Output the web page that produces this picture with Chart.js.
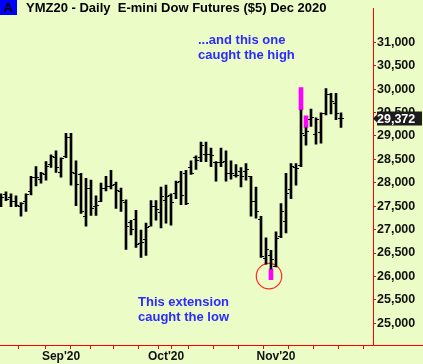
<!DOCTYPE html>
<html lang="en">
<head>
<meta charset="UTF-8">
<title>YMZ20 - Daily E-mini Dow Futures</title>
<script src="https://cdn.jsdelivr.net/npm/chart.js"></script>
<style>
  html, body { margin: 0; padding: 0; }
  body { background: #ecfcc6; width: 423px; height: 364px; overflow: hidden; font-family: "Liberation Sans", Arial, sans-serif; }
  #wrap { position: relative; width: 423px; height: 364px; }
  #chart { position: absolute; left: 0; top: 0; }
  .badge { position: absolute; left: 0; top: 0; width: 17px; height: 15px; background: #0000ff; color: #000; font-weight: bold; font-size: 13px; line-height: 15px; text-align: center; }
  .title { position: absolute; left: 26px; top: 0; font-weight: bold; font-size: 13px; line-height: 15px; white-space: pre; color: #000; }
  .note { position: absolute; color: #2b2bff; font-weight: bold; font-size: 13px; line-height: 15px; white-space: nowrap; }
</style>
</head>
<body>
<div id="wrap">
  <canvas id="chart" width="423" height="364"></canvas>
  <div class="badge">A</div>
  <div class="title">YMZ20 - Daily  E-mini Dow Futures ($5) Dec 2020</div>
  <div class="note" style="left:198px; top:32px;">...and this one<br>caught the high</div>
  <div class="note" style="left:138px; top:294px; text-align:center;">This extension<br>caught the low</div>
</div>

<script>
// trading days (last two only extend the axis)
const dates = [
  '2020-08-14', '2020-08-17', '2020-08-18', '2020-08-19', '2020-08-20', '2020-08-21',
  '2020-08-24', '2020-08-25', '2020-08-26', '2020-08-27', '2020-08-28', '2020-08-31',
  '2020-09-01', '2020-09-02', '2020-09-03', '2020-09-04', '2020-09-08', '2020-09-09',
  '2020-09-10', '2020-09-11', '2020-09-14', '2020-09-15', '2020-09-16', '2020-09-17',
  '2020-09-18', '2020-09-21', '2020-09-22', '2020-09-23', '2020-09-24', '2020-09-25',
  '2020-09-28', '2020-09-29', '2020-09-30', '2020-10-01', '2020-10-02', '2020-10-05',
  '2020-10-06', '2020-10-07', '2020-10-08', '2020-10-09', '2020-10-12', '2020-10-13',
  '2020-10-14', '2020-10-15', '2020-10-16', '2020-10-19', '2020-10-20', '2020-10-21',
  '2020-10-22', '2020-10-23', '2020-10-26', '2020-10-27', '2020-10-28', '2020-10-29',
  '2020-10-30', '2020-11-02', '2020-11-03', '2020-11-04', '2020-11-05', '2020-11-06',
  '2020-11-09', '2020-11-10', '2020-11-11', '2020-11-12', '2020-11-13', '2020-11-16',
  '2020-11-17', '2020-11-18', '2020-11-19', '2020-11-20', '2020-11-23'
];

const opens = [27722, 27743, 27681, 27597, 27493, 27597, 27806, 28118, 28077, 28181,
  28389, 28535, 28222, 28556, 28973, 28202, 28181, 27285, 27868, 27493,
  27597, 27889, 27931, 27972, 27806, 27577, 27160, 27222, 26701, 26785,
  27076, 27493, 27368, 27618, 27722, 27764, 28035, 28202, 28327, 28535,
  28535, 28597, 28597, 28431, 28431, 28452, 28202, 28160, 28243, 28243,
  28139, 27597, 27222, 26389, 26451, 26222, 26847, 27181, 27847, 28327,
  28368, 29014, 29348, 29035, 29077, 29473, 29889, 29702, 29368];

const highs = [27764, 27806, 27764, 27722, 27577, 27764, 28139, 28347, 28222, 28452,
  28597, 28681, 28535, 29056, 29056, 28472, 28202, 28097, 28056, 27722,
  27993, 28139, 28264, 28014, 27889, 27639, 27201, 27410, 26993, 27139,
  27618, 27618, 27910, 27952, 27764, 28035, 28243, 28264, 28472, 28577,
  28868, 28868, 28743, 28452, 28743, 28681, 28472, 28389, 28327, 28410,
  28139, 27910, 27285, 26826, 26556, 26951, 27556, 28202, 28410, 28410,
  29556, 29181, 29577, 29389, 29493, 30014, 29910, 29910, 29493];

const lows = [27493, 27618, 27493, 27493, 27285, 27389, 27743, 27931, 27993, 28056,
  28327, 28222, 28118, 28535, 27952, 27514, 27347, 27076, 27306, 27306,
  27597, 27827, 27868, 27452, 27389, 26576, 26889, 26618, 26409, 26451,
  27076, 27201, 27035, 27139, 27097, 27660, 27535, 27535, 28181, 28285,
  28452, 28452, 28347, 28035, 28347, 28035, 28077, 28118, 27910, 28056,
  27285, 27243, 26409, 26264, 26160, 26201, 26826, 26931, 27660, 27952,
  28347, 28806, 29202, 28827, 28848, 29452, 29473, 29348, 29181];

const closes = [27681, 27639, 27597, 27514, 27556, 27743, 28118, 28118, 28202, 28347,
  28556, 28327, 28514, 28973, 28222, 27972, 27389, 27868, 27452, 27514,
  27889, 27931, 27952, 27827, 27618, 27076, 26993, 26681, 26722, 27056,
  27493, 27431, 27702, 27702, 27577, 28014, 27722, 27556, 28202, 28472,
  28806, 28597, 28577, 28431, 28431, 28202, 28202, 28160, 28139, 28285,
  27597, 27389, 26430, 26576, 26368, 26805, 27389, 27764, 28347, 28306,
  29056, 29098, 29389, 29348, 29473, 29889, 29744, 29473, 29372];

// extension bars (magenta)
const extBars = [54, 60, 61];
const extLow = [25930, 29556, 29181];
const extHigh = [26160, 30035, 29431];

// circle round the low extension
const lowCircle = { x: 53.6, y: 26007 };

const yTicks = [25000, 25500, 26000, 26500, 27000, 27500, 28000, 28500, 29000, 29500, 30000, 30500, 31000];
const months = ['Jan', 'Feb', 'Mar', 'Apr', 'May', 'Jun', 'Jul', 'Aug', 'Sep', 'Oct', 'Nov', 'Dec'];

// week / month ticks from the dates
const days = dates.map(d => new Date(d + 'T00:00:00'));
const monthTicks = {};
const xTicks = [];
for (let i = 1; i < days.length; i++) {
  const newMonth = days[i].getMonth() !== days[i - 1].getMonth();
  const newWeek = days[i].getDay() <= days[i - 1].getDay();
  if (newMonth) {
    monthTicks[i] = months[days[i].getMonth()] + "'" + String(days[i].getFullYear()).slice(2);
    xTicks.push(i);
  } else if (newWeek) {
    const nextNewMonth = i + 1 < days.length && days[i + 1].getMonth() !== days[i].getMonth();
    if (!nextNewMonth) xTicks.push(i);
  }
}

function tickImage(side) {
  const c = document.createElement('canvas');
  c.width = 6; c.height = 1;
  const g = c.getContext('2d');
  g.fillStyle = '#000';
  g.fillRect(side === 'left' ? 0 : 4, 0, 2, 1);
  return c;
}

const lastPriceTag = {
  id: 'lastPriceTag',
  afterDraw(chart) {
    const { ctx, chartArea, scales } = chart;
    // red baseline runs under the price axis too
    const yb = Math.round(chartArea.bottom) + 0.5;
    ctx.save();
    ctx.strokeStyle = '#ff0000';
    ctx.lineWidth = 1;
    ctx.beginPath();
    ctx.moveTo(chartArea.right, yb);
    ctx.lineTo(chart.width, yb);
    ctx.stroke();

    const last = closes[closes.length - 1];
    const y = scales.y.getPixelForValue(last);
    const x0 = chartArea.right;
    ctx.fillStyle = '#1c1c1c';
    ctx.beginPath();
    ctx.moveTo(x0, y);
    ctx.lineTo(x0 + 4, y - 4);
    ctx.lineTo(x0 + 4, y - 7);
    ctx.lineTo(chart.width - 1, y - 7);
    ctx.lineTo(chart.width - 1, y + 7);
    ctx.lineTo(x0 + 4, y + 7);
    ctx.lineTo(x0 + 4, y + 4);
    ctx.closePath();
    ctx.fill();
    ctx.fillStyle = '#ffffff';
    ctx.font = 'bold 12.5px "Liberation Sans", Arial, sans-serif';
    ctx.textBaseline = 'middle';
    ctx.textAlign = 'left';
    ctx.fillText(last.toLocaleString('en-US'), x0 + 4, y + 1);
    ctx.restore();
  }
};

new Chart(document.getElementById('chart'), {
  type: 'bar',
  data: {
    datasets: [
      {
        label: 'Range',
        data: highs.map((h, i) => ({ x: i, y: [lows[i], h] })),
        backgroundColor: '#000000',
        barThickness: 2,
        grouped: false,
        order: 0
      },
      {
        type: 'line',
        label: 'Open',
        data: opens.map((v, i) => ({ x: i, y: v })),
        showLine: false,
        pointStyle: tickImage('left'),
        pointRadius: 3,
        order: 1
      },
      {
        type: 'line',
        label: 'Close',
        data: closes.map((v, i) => ({ x: i, y: v })),
        showLine: false,
        pointStyle: tickImage('right'),
        pointRadius: 3,
        order: 1
      },
      {
        label: 'Extension',
        data: extBars.map((b, k) => ({ x: b, y: [extLow[k], extHigh[k]] })),
        backgroundColor: '#ff00ff',
        barThickness: 4,
        grouped: false,
        order: 2
      },
      {
        type: 'line',
        label: 'Low',
        data: [lowCircle],
        showLine: false,
        pointStyle: 'circle',
        pointRadius: 12.7,
        borderColor: '#ff2a2a',
        borderWidth: 1.2,
        backgroundColor: 'rgba(0,0,0,0)',
        order: 3
      }
    ]
  },
  options: {
    responsive: false,
    animation: false,
    events: [],
    layout: { padding: 0, autoPadding: false },
    plugins: { legend: { display: false }, tooltip: { enabled: false } },
    scales: {
      x: {
        type: 'linear',
        min: -0.2,
        max: 74.4,
        offset: false,
        grid: { drawOnChartArea: false, drawTicks: true, tickLength: 4, color: '#ff0000' },
        border: { color: '#ff0000', width: 1 },
        afterBuildTicks: axis => { axis.ticks = xTicks.map(v => ({ value: v })); },
        afterFit: scale => { scale.height = 19; },
        ticks: {
          autoSkip: false,
          maxRotation: 0,
          padding: 0,
          color: '#111111',
          font: { family: '"Liberation Sans", Arial, sans-serif', size: 12, weight: 'bold' },
          callback: v => monthTicks[v] || ''
        }
      },
      y: {
        position: 'right',
        min: 24536,
        max: 31723,
        stacked: false,
        grid: { drawOnChartArea: false, drawTicks: true, tickLength: 3, color: '#ff0000' },
        border: { color: '#ff0000', width: 1 },
        afterBuildTicks: axis => { axis.ticks = yTicks.map(v => ({ value: v })); },
        afterFit: scale => { scale.width = 50; },
        ticks: {
          padding: 1,
          color: '#111111',
          font: { family: '"Liberation Sans", Arial, sans-serif', size: 12.5, weight: 'bold' },
          callback: v => v.toLocaleString('en-US')
        }
      }
    }
  },
  plugins: [lastPriceTag]
});
</script>
</body>
</html>
